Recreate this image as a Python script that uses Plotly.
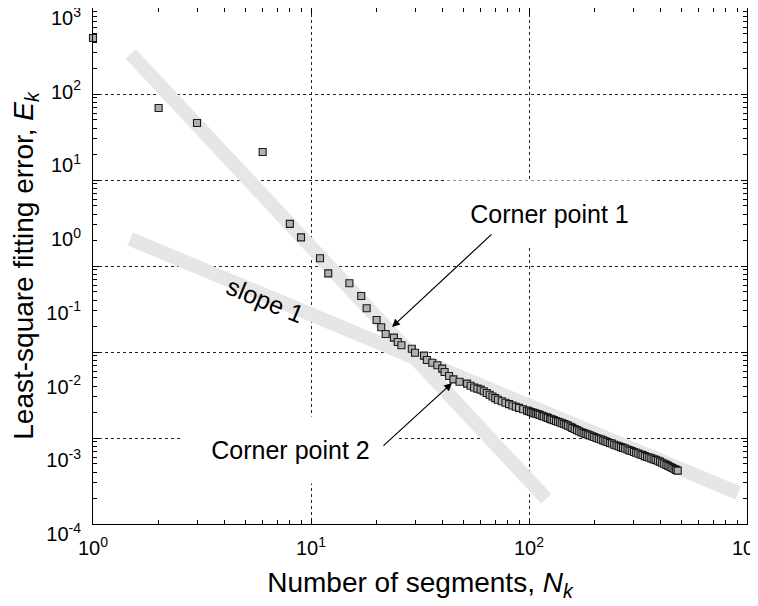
import plotly.graph_objects as go

FONT_FAMILY = "Liberation Sans, Arial, sans-serif"

# Number of segments N_k and least-square fitting error E_k
N_VALUES = [
    1, 2, 3, 6, 8, 9, 11, 12, 15, 17,
    18, 20, 21, 22, 24, 25, 26, 29, 30, 33,
    34, 36, 38, 40, 41, 43, 45, 48, 52, 54,
    56, 58, 60, 62, 64, 66, 68, 70, 72, 75,
    78, 81, 84, 87, 90, 94, 98, 100, 102, 104,
    106, 108, 110, 112, 115, 117, 120, 122, 125, 127,
    130, 133, 136, 139, 142, 145, 148, 151, 155, 158,
    162, 166, 170, 174, 178, 182, 186, 190, 195, 199,
    204, 209, 214, 219, 224, 229, 235, 240, 246, 252,
    258, 264, 270, 276, 283, 289, 296, 303, 310, 317,
    325, 332, 340, 348, 356, 364, 373, 381, 390, 399,
    408, 417, 427, 436, 446, 455, 465, 473, 481,
]
E_VALUES = [
    536, 60.5, 37.9, 15.3, 1.63, 1.07, 0.558, 0.349, 0.256, 0.172,
    0.1175, 0.0815, 0.0649, 0.0527, 0.047, 0.041, 0.0371, 0.0333, 0.0294, 0.0268,
    0.0234, 0.0215, 0.0199, 0.0179, 0.0161, 0.0142, 0.0128, 0.0119, 0.0112, 0.0105,
    0.00993, 0.00959, 0.00929, 0.00885, 0.00836, 0.00791, 0.0075, 0.00713, 0.00679, 0.00646,
    0.00617, 0.00592, 0.00568, 0.00546, 0.00526, 0.00504, 0.00483, 0.00473, 0.00463, 0.00455,
    0.00447, 0.00439, 0.00431, 0.00423, 0.0041, 0.00403, 0.00392, 0.00385, 0.00374, 0.00368,
    0.00359, 0.0035, 0.00341, 0.00333, 0.00326, 0.00318, 0.00311, 0.00303, 0.00292, 0.00282,
    0.00272, 0.00263, 0.00254, 0.00246, 0.0024, 0.00234, 0.00229, 0.00223, 0.00217, 0.00212,
    0.00206, 0.00201, 0.00196, 0.00191, 0.00186, 0.00182, 0.00176, 0.00173, 0.00167, 0.00163,
    0.00159, 0.00155, 0.00151, 0.00148, 0.00144, 0.0014, 0.00137, 0.00133, 0.0013, 0.00127,
    0.00123, 0.00121, 0.00117, 0.00114, 0.00112, 0.00109, 0.00106, 0.00104, 0.00101, 0.000984,
    0.000951, 0.00092, 0.000889, 0.000863, 0.000834, 0.000807, 0.000783, 0.000762, 0.000743,
]

# Thick grey guide lines (end points)
STEEP_N = [1.49, 120]
STEEP_E = [326, 3.1e-4]
SHALLOW_N = [1.48, 910]
SHALLOW_E = [1.02, 3.7e-4]

X_TICKS = [1, 10, 100, 1000]
X_TICK_TEXT = ["10<sup>0</sup>", "10<sup>1</sup>", "10<sup>2</sup>", "10<sup>3</sup>"]
Y_TICKS = [1e3, 1e2, 1e1, 1e0, 1e-1, 1e-2, 1e-3, 1e-4]
Y_TICK_TEXT = [
    "10<sup>3</sup>", "10<sup>2</sup>", "10<sup>1</sup>", "10<sup>0</sup>",
    "10<sup>-1</sup>", "10<sup>-2</sup>", "10<sup>-3</sup>", "10<sup>-4</sup>",
]
GRID_DECADES = [1e-3, 1e-2, 1e-1, 1e0, 1e1, 1e2, 1e3]

MARKER_FILL = "#b0b0b0"
MARKER_EDGE = "#1a1a1a"
GUIDE_COLOR = "#e6e6e6"
GRID_COLOR = "#222222"


def minor_log_ticks(decades):
    return [k * d for d in decades for k in range(2, 10)]


def build_figure():
    fig = go.Figure()

    # empty traces so the helper overlay axes get drawn
    for xa, ya in (("x2", "y"), ("x3", "y"), ("x", "y2"), ("x", "y3"), ("x", "y4")):
        fig.add_trace(go.Scatter(x=[], y=[], xaxis=xa, yaxis=ya,
                                 hoverinfo="skip", showlegend=False))

    for n, e in ((STEEP_N, STEEP_E), (SHALLOW_N, SHALLOW_E)):
        fig.add_trace(
            go.Scatter(
                x=n, y=e, mode="lines",
                line=dict(color=GUIDE_COLOR, width=14),
                hoverinfo="skip", showlegend=False,
            )
        )

    fig.add_trace(
        go.Scatter(
            x=N_VALUES, y=E_VALUES, mode="markers",
            marker=dict(symbol="square", size=7, color=MARKER_FILL,
                        line=dict(width=1.1, color=MARKER_EDGE)),
            cliponaxis=False, showlegend=False,
        )
    )

    # tick-only overlay axes (no line, grid or labels)
    tick_axis = dict(
        type="log", automargin=False, showline=False, showgrid=False,
        zeroline=False, showticklabels=False, mirror="ticks",
        ticks="inside", tickcolor="black",
    )

    # the page puts the figure 8px in from the window corner, hence the
    # slightly smaller size and margins
    fig.update_layout(
        width=750, height=598,
        paper_bgcolor="white", plot_bgcolor="white",
        margin=dict(l=85, r=11, t=0, b=82),
        font=dict(family=FONT_FAMILY, color="black"),
        xaxis=dict(
            type="log", range=[0, 3], anchor="y", automargin=False,
            showline=True, linecolor="black", linewidth=1.3, mirror=True,
            ticks="outside", ticklen=6, tickcolor="rgba(0,0,0,0)",
            tickvals=X_TICKS, ticktext=X_TICK_TEXT, tickfont=dict(size=20),
            ticklabeloverflow="allow", zeroline=False,
            showgrid=True, gridcolor=GRID_COLOR, gridwidth=1, griddash="dot",
            title=dict(text="Number of segments, <i>N<sub>k</sub></i>",
                       font=dict(size=28), standoff=14),
        ),
        xaxis2=dict(tick_axis, anchor="y", overlaying="x", range=[0, 3],
                    ticklen=6, tickvals=X_TICKS),
        xaxis3=dict(tick_axis, anchor="y", overlaying="x", range=[0, 3],
                    ticklen=4, tickvals=minor_log_ticks([1, 10, 100])),
        # data axis: carries the frame and the title
        yaxis=dict(
            type="log", range=[-3.851, 3.135], anchor="x", automargin=False,
            showline=True, linecolor="black", linewidth=1.3, mirror=True,
            ticks="", showticklabels=False, showgrid=False, zeroline=False,
            title=dict(text="Least-square fitting error, <i>E<sub>k</sub></i>",
                       font=dict(size=28), standoff=55),
        ),
        # decade grid and major tick marks
        yaxis2=dict(
            tick_axis, range=[-3, 3], overlaying="y", anchor="x", side="left",
            ticklen=6, tickvals=GRID_DECADES,
            showgrid=True, gridcolor=GRID_COLOR, gridwidth=1, griddash="dot",
        ),
        # decade labels
        yaxis3=dict(
            type="log", range=[-4, 3], overlaying="y", anchor="x", side="left",
            automargin=False, showline=False, showgrid=False, zeroline=False,
            ticks="", tickvals=Y_TICKS, ticktext=Y_TICK_TEXT,
            tickfont=dict(size=20), ticklabelstandoff=11, ticklabelshift=10,
            ticklabeloverflow="allow",
        ),
        yaxis4=dict(tick_axis, overlaying="y", anchor="x", side="left",
                    range=[-3, 3], ticklen=4,
                    tickvals=minor_log_ticks(GRID_DECADES[:-1])),
    )

    text_font = dict(family=FONT_FAMILY, size=25, color="black")
    # annotation positions on log axes are given as log10 values
    fig.add_annotation(
        text="slope 1", x=0.789, y=-0.818,
        textangle=22.5, showarrow=False, font=text_font,
    )
    fig.add_annotation(
        text="Corner point 1", x=2.096, y=0.34,
        showarrow=False, font=text_font, bgcolor="white",
        width=205, height=66, borderpad=0,
    )
    fig.add_annotation(
        text="Corner point 2", x=0.904, y=-2.849,
        showarrow=False, font=text_font, bgcolor="white",
        width=215, height=66, borderpad=0,
    )
    arrow_style = dict(
        text="", showarrow=True, arrowhead=2,
        arrowsize=1.3, arrowwidth=1.2, arrowcolor="black",
    )
    fig.add_annotation(x=1.3716, y=-1.184, ax=101, ay=-94, **arrow_style)
    fig.add_annotation(x=1.6468, y=-1.942, ax=-70, ay=64, **arrow_style)

    return fig


def main():
    fig = build_figure()
    fig.write_html("out.html")


if __name__ == "__main__":
    main()
